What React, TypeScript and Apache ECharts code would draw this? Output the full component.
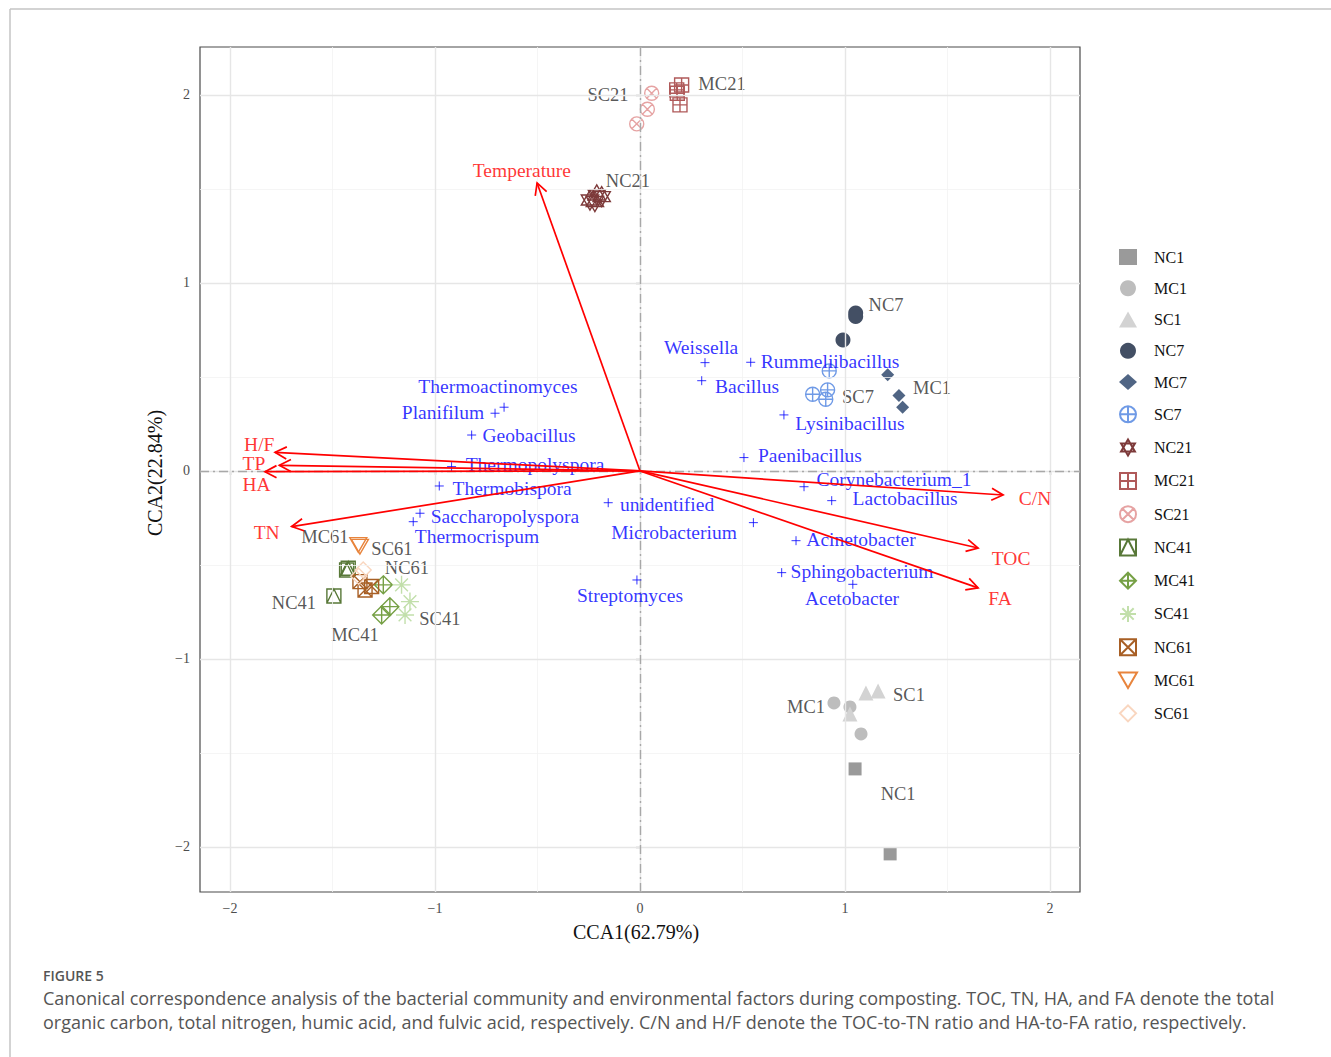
import React, { useEffect, useRef } from "react";
import * as echarts from "echarts";

// ---------- sample scores (CCA1, CCA2) ----------
const NC1 = [[1.049, -1.585], [1.220, -2.037]];
const MC1 = [[0.946, -1.234], [1.024, -1.255], [1.078, -1.399]];
const SC1 = [[1.024, -1.293], [1.102, -1.181], [1.161, -1.170]];
const NC7 = [[1.052, 0.840], [1.052, 0.822], [0.990, 0.697]];
const MC7 = [[1.208, 0.511], [1.263, 0.401], [1.281, 0.339]];
const SC7 = [[0.923, 0.532], [0.915, 0.431], [0.842, 0.408], [0.906, 0.381]];
const NC21 = [[-0.244, 1.441], [-0.211, 1.468], [-0.187, 1.459], [-0.220, 1.433]];
const MC21 = [[0.203, 2.053], [0.179, 2.027], [0.182, 2.009], [0.195, 1.947]];
const SC21 = [[0.057, 2.009], [0.036, 1.924], [-0.016, 1.846]];
const NC41 = [[-1.423, -0.518], [-1.431, -0.527], [-1.493, -0.665]];
const MC41 = [[-1.252, -0.606], [-1.220, -0.722], [-1.260, -0.766]];
const SC41 = [[-1.163, -0.606], [-1.122, -0.695], [-1.146, -0.766]];
const NC61 = [[-1.366, -0.589], [-1.341, -0.633], [-1.309, -0.615]];
const MC61 = [[-1.366, -0.403], [-1.374, -0.394]];
const SC61 = [[-1.350, -0.527], [-1.372, -0.560]];

const groupNames = ["NC1", "MC1", "SC1", "NC7", "MC7", "SC7", "NC21", "MC21", "SC21", "NC41", "MC41", "SC41", "NC61", "MC61", "SC61"];
const groupData = [NC1, MC1, SC1, NC7, MC7, SC7, NC21, MC21, SC21, NC41, MC41, SC41, NC61, MC61, SC61];

// sample text labels (repelled positions in data units)
const sampleLabelText = ["SC21", "MC21", "NC21", "NC7", "MC1", "SC7", "MC1", "SC1", "NC1", "MC61", "SC61", "NC61", "NC41", "MC41", "SC41"];
const sampleLabelX = [-0.156, 0.400, -0.059, 1.200, 1.424, 1.063, 0.810, 1.312, 1.259, -1.537, -1.210, -1.137, -1.688, -1.390, -0.976];
const sampleLabelY = [2.000, 2.059, 1.543, 0.883, 0.441, 0.394, -1.255, -1.191, -1.718, -0.351, -0.414, -0.516, -0.702, -0.872, -0.787];

// ---------- species scores ----------
const speciesNames = ["Thermoactinomyces", "Planifilum", "Geobacillus", "Thermopolyspora", "Thermobispora", "Saccharopolyspora", "Thermocrispum", "unidentified", "Microbacterium", "Weissella", "Bacillus", "Rummeliibacillus", "Lysinibacillus", "Paenibacillus", "Corynebacterium_1", "Lactobacillus", "Acinetobacter", "Sphingobacterium", "Acetobacter", "Streptomyces"];
const speciesX = [-0.663, -0.707, -0.821, -0.919, -0.979, -1.073, -1.106, -0.155, 0.553, 0.317, 0.301, 0.540, 0.702, 0.507, 0.800, 0.935, 0.761, 0.691, 1.038, -0.015];
const speciesY = [0.339, 0.307, 0.191, 0.023, -0.080, -0.225, -0.270, -0.169, -0.275, 0.576, 0.480, 0.578, 0.298, 0.071, -0.084, -0.158, -0.371, -0.541, -0.603, -0.580];
const speciesLabelX = [-0.693, -0.961, -0.541, -0.512, -0.624, -0.659, -0.795, 0.132, 0.166, 0.298, 0.522, 0.927, 1.024, 0.829, 1.239, 1.293, 1.078, 1.083, 1.034, -0.049];
const speciesLabelY = [0.447, 0.309, 0.191, 0.032, -0.096, -0.245, -0.351, -0.176, -0.330, 0.654, 0.447, 0.580, 0.250, 0.080, -0.043, -0.149, -0.367, -0.537, -0.681, -0.665];

// ---------- environmental vectors ----------
const envNames = ["Temperature", "H/F", "TP", "HA", "TN", "C/N", "TOC", "FA"];
const envX = [-0.502, -1.780, -1.759, -1.829, -1.699, 1.771, 1.649, 1.649];
const envY = [1.532, 0.099, 0.030, -0.004, -0.296, -0.128, -0.410, -0.622];
const envLabelX = [-0.576, -1.857, -1.883, -1.870, -1.821, 1.927, 1.810, 1.756];
const envLabelY = [1.596, 0.138, 0.037, -0.074, -0.330, -0.144, -0.468, -0.676];

// ---------- axes ----------
const xTicks = [-2, -1, 0, 1, 2];
const yTicks = [-2, -1, 0, 1, 2];
const xMinor = [-1.5, -0.5, 0.5, 1.5];
const yMinor = [-1.5, -0.5, 0.5, 1.5];
const xRange = [-2.146, 2.146];
const yRange = [-2.2397, 2.255];

const captionTitle = "FIGURE 5";
const captionLines = [
  "Canonical correspondence analysis of the bacterial community and environmental factors during composting. TOC, TN, HA, and FA denote the total",
  "organic carbon, total nitrogen, humic acid, and fulvic acid, respectively. C/N and H/F denote the TOC-to-TN ratio and HA-to-FA ratio, respectively.",
];

// ---------- symbol styles ----------
const CIRC = "M0,5 A5,5 0 1,1 10,5 A5,5 0 1,1 0,5 Z";
const symbols: any[] = [
  { s: "rect", c: "#9a9a9a", fill: true, size: 13 },
  { s: "circle", c: "#bdbdbd", fill: true, size: 13 },
  { s: "triangle", c: "#d3d3d3", fill: true, size: 15 },
  { s: "circle", c: "#434f64", fill: true, size: 15 },
  { s: "diamond", c: "#506584", fill: true, size: 13 },
  { s: "path://" + CIRC + " M0,5 L10,5 M5,0 L5,10", c: "#6f9ae6", fill: false, size: 14 },
  { s: "path://M5,0 L10,8.66 L0,8.66 Z M0,2.89 L10,2.89 L5,11.55 Z", c: "#7d3a3a", fill: false, size: 20 },
  { s: "path://M0,0 L10,0 L10,10 L0,10 Z M0,5 L10,5 M5,0 L5,10", c: "#b05a5a", fill: false, size: 14 },
  { s: "path://" + CIRC + " M1.46,1.46 L8.54,8.54 M8.54,1.46 L1.46,8.54", c: "#e6a3a3", fill: false, size: 14 },
  { s: "path://M0,0 L10,0 L10,10 L0,10 Z M0,10 L5,0 L10,10", c: "#587838", fill: false, size: 14 },
  { s: "path://M5,0 L10,5 L5,10 L0,5 Z M0,5 L10,5 M5,0 L5,10", c: "#76a045", fill: false, size: 18 },
  { s: "path://M5,0 L5,10 M0,5 L10,5 M1.46,1.46 L8.54,8.54 M8.54,1.46 L1.46,8.54", c: "#c2dfab", fill: false, size: 18 },
  { s: "path://M0,0 L10,0 L10,10 L0,10 Z M0,0 L10,10 M10,0 L0,10", c: "#a85f25", fill: false, size: 14 },
  { s: "path://M0,0 L10,0 L5,8.66 Z", c: "#e8843c", fill: false, size: 17 },
  { s: "path://M5,0 L10,5 L5,10 L0,5 Z", c: "#f9d6bf", fill: false, size: 16 },
];

const SERIF = "'Liberation Serif', 'Times New Roman', serif";

export default function App() {
  const ref = useRef<HTMLDivElement>(null);
  useEffect(() => {
    if (!ref.current) return;
    const chart = echarts.init(ref.current, null, { renderer: "svg" });
    const fmt = (v: number) => (v < 0 ? "\u2212" + Math.abs(v) : String(v));

    const gridSeries: any = {
      type: "scatter",
      name: "_grid",
      data: [],
      z: 0,
      silent: true,
      markLine: {
        silent: true,
        symbol: ["none", "none"],
        label: { show: false },
        animation: false,
        data: [
          ...xMinor.map((v) => ({ xAxis: v, lineStyle: { color: "#f2f2f2", width: 0.8, type: "solid" } })),
          ...yMinor.map((v) => ({ yAxis: v, lineStyle: { color: "#f2f2f2", width: 0.8, type: "solid" } })),
          ...xTicks.map((v) => ({ xAxis: v, lineStyle: { color: "#e6e6e6", width: 1.4, type: "solid" } })),
          ...yTicks.map((v) => ({ yAxis: v, lineStyle: { color: "#e6e6e6", width: 1.4, type: "solid" } })),
          { xAxis: 0, lineStyle: { color: "#a8a8a8", width: 1.4, type: [9, 4, 2, 4] } },
          { yAxis: 0, lineStyle: { color: "#a8a8a8", width: 1.4, type: [9, 4, 2, 4] } },
        ],
      },
    };

    const sampleSeries = groupNames.map((n, i) => {
      const sym = symbols[i];
      return {
        type: "scatter",
        name: n,
        data: groupData[i],
        symbol: sym.s,
        symbolSize: sym.size,
        symbolKeepAspect: true,
        z: 3,
        itemStyle: sym.fill
          ? { color: sym.c, opacity: 1 }
          : { color: "rgba(0,0,0,0)", borderColor: sym.c, borderWidth: 1.4, opacity: 1 },
      };
    });

    const sampleLabels = {
      type: "scatter",
      name: "_sampleLabels",
      z: 4,
      symbolSize: 1,
      itemStyle: { color: "rgba(0,0,0,0)" },
      data: sampleLabelText.map((t, i) => ({ name: t, value: [sampleLabelX[i], sampleLabelY[i]] })),
      label: { show: true, position: "inside", formatter: "{b}", color: "#2b2b2b", fontSize: 18.5, fontFamily: SERIF },
    };

    const speciesMarks = {
      type: "scatter",
      name: "_species",
      z: 5,
      symbol: "path://M0,5 L10,5 M5,0 L5,10",
      symbolSize: 9,
      itemStyle: { color: "rgba(0,0,0,0)", borderColor: "#0000ff", borderWidth: 1 },
      data: speciesX.map((x, i) => [x, speciesY[i]]),
    };

    const speciesLabels = {
      type: "scatter",
      name: "_speciesLabels",
      z: 5,
      symbolSize: 1,
      itemStyle: { color: "rgba(0,0,0,0)" },
      data: speciesNames.map((t, i) => ({ name: t, value: [speciesLabelX[i], speciesLabelY[i]] })),
      label: { show: true, position: "inside", formatter: "{b}", color: "#0000ff", fontSize: 19.5, fontFamily: SERIF },
    };

    const arrows = {
      type: "custom",
      name: "_arrows",
      z: 6,
      coordinateSystem: "cartesian2d",
      data: envX.map((x, i) => [x, envY[i]]),
      renderItem: (params: any, api: any) => {
        const o = api.coord([0, 0]);
        const t = api.coord([api.value(0), api.value(1)]);
        const ang = Math.atan2(t[1] - o[1], t[0] - o[0]);
        const L = 13;
        const a = Math.PI / 6.5;
        const p1 = [t[0] - L * Math.cos(ang - a), t[1] - L * Math.sin(ang - a)];
        const p2 = [t[0] - L * Math.cos(ang + a), t[1] - L * Math.sin(ang + a)];
        return {
          type: "group",
          children: [
            { type: "line", shape: { x1: o[0], y1: o[1], x2: t[0], y2: t[1] }, style: { stroke: "#ff0000", lineWidth: 1.7 } },
            { type: "polyline", shape: { points: [p1, t, p2] }, style: { stroke: "#ff0000", lineWidth: 1.7, fill: "none" } },
          ],
        };
      },
    };

    const envLabels = {
      type: "scatter",
      name: "_envLabels",
      z: 6,
      symbolSize: 1,
      itemStyle: { color: "rgba(0,0,0,0)" },
      data: envNames.map((t, i) => ({ name: t, value: [envLabelX[i], envLabelY[i]] })),
      label: { show: true, position: "inside", formatter: "{b}", color: "#ff0000", fontSize: 19.5, fontFamily: SERIF },
    };

    const option: any = {
      animation: false,
      backgroundColor: "#ffffff",
      grid: { left: 200, top: 47, width: 880, height: 845, show: true, borderColor: "#4a4a4a", borderWidth: 1.2, backgroundColor: "#ffffff" },
      xAxis: {
        type: "value",
        min: xRange[0],
        max: xRange[1],
        axisLine: { show: false },
        splitLine: { show: false },
        axisTick: { show: true, customValues: xTicks, length: 4, lineStyle: { color: "#333", width: 1.2 } },
        axisLabel: { customValues: xTicks, formatter: fmt, color: "#4d4d4d", fontSize: 14, fontFamily: SERIF, margin: 9 },
      },
      yAxis: {
        type: "value",
        min: yRange[0],
        max: yRange[1],
        axisLine: { show: false },
        splitLine: { show: false },
        axisTick: { show: true, customValues: yTicks, length: 4, lineStyle: { color: "#333", width: 1.2 } },
        axisLabel: { customValues: yTicks, formatter: fmt, color: "#4d4d4d", fontSize: 14, fontFamily: SERIF, margin: 10 },
      },
      legend: {
        orient: "vertical",
        left: 1113,
        top: 244,
        itemWidth: 18,
        itemHeight: 16,
        itemGap: 15.27,
        selectedMode: false,
        data: groupNames,
        textStyle: { color: "#111", fontSize: 16, fontFamily: SERIF, padding: [0, 0, 0, 12] },
      },
      graphic: [
        { type: "line", shape: { x1: 10, y1: 9, x2: 1331, y2: 9 }, style: { stroke: "#c4c4c4", lineWidth: 1.5 } },
        { type: "line", shape: { x1: 10, y1: 9, x2: 10, y2: 1057 }, style: { stroke: "#c4c4c4", lineWidth: 1.5 } },
        { type: "text", x: 636, y: 932, style: { text: "CCA1(62.79%)", font: "20px " + SERIF, fill: "#111", textAlign: "center", textVerticalAlign: "middle" } },
        { type: "text", x: 155, y: 473, rotation: Math.PI / 2, style: { text: "CCA2(22.84%)", font: "20px " + SERIF, fill: "#111", textAlign: "center", textVerticalAlign: "middle" } },
        { type: "text", x: 43, y: 975, style: { text: captionTitle, font: "600 14px 'Open Sans', sans-serif", fill: "#555", textVerticalAlign: "middle" } },
        { type: "text", x: 43, y: 998, style: { text: captionLines[0], font: "18px 'Open Sans', sans-serif", fill: "#555", textVerticalAlign: "middle" } },
        { type: "text", x: 43, y: 1022, style: { text: captionLines[1], font: "18px 'Open Sans', sans-serif", fill: "#555", textVerticalAlign: "middle" } },
      ],
      series: [gridSeries, ...sampleSeries, sampleLabels, speciesMarks, speciesLabels, arrows, envLabels],
    };
    chart.setOption(option);
    return () => chart.dispose();
  }, []);

  return (
    <div style={{ position: "absolute", left: 0, top: 0, width: 1331, height: 1057, overflow: "hidden", background: "#fff" }}>
      <div ref={ref} style={{ width: 1331, height: 1057 }} />
    </div>
  );
}
